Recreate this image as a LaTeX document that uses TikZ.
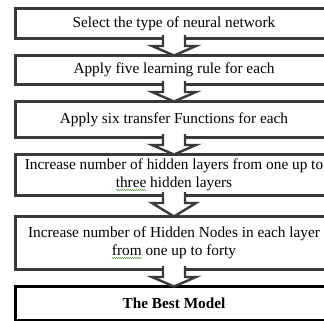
\documentclass[tikz,border=0pt]{standalone}
\usepackage{fontspec}
\setmainfont{Liberation Serif}
\usetikzlibrary{decorations.pathmorphing}
\definecolor{bordergray}{RGB}{58,58,58}
\definecolor{squiggle}{RGB}{80,160,60}
\tikzset{
  flowbox/.style={draw=bordergray, line width=2.8pt, fill=white, minimum width=317pt,
    align=center, font=\fontsize{15.3}{17.5}\selectfont, inner sep=0pt},
  finalbox/.style={flowbox, draw=black, font=\fontsize{15.3}{17.5}\selectfont\bfseries},
  flowarrow/.style={draw=bordergray, line width=2.4pt, fill=white, line join=miter},
}
\newlength\wavelen
\newcommand\wavy[1]{\settowidth\wavelen{#1}\rlap{#1}\tikz[baseline=0pt,trim left=0pt,trim right=\wavelen]\draw[draw=squiggle,fill=none,line width=0.5pt,decorate,decoration={snake,amplitude=0.5pt,segment length=2pt}] (0pt,-2.5pt) -- (\wavelen,-2.5pt);}
\newcommand\flowarrowpath[2]{\filldraw[flowarrow] ([xshift=-11pt,yshift=5pt]#1.south) -- ([xshift=-11pt,yshift=-6pt]#1.south) -- ([xshift=-22pt,yshift=-6pt]#1.south) -- ([yshift=-1.5pt]#2.north) -- ([xshift=22pt,yshift=-6pt]#1.south) -- ([xshift=11pt,yshift=-6pt]#1.south) -- ([xshift=11pt,yshift=5pt]#1.south);}
\begin{document}
\begin{tikzpicture}[x=1pt,y=-1pt]
\useasboundingbox (0,0) rectangle (324,321);
\clip (0,0) rectangle (324,321);
\node[flowbox, minimum height=30.2pt] (b1) at (174,23.5) {Select the type of neural network};
\node[flowbox, minimum height=29.2pt] (b2) at (174,70) {Apply five learning rule for each};
\node[flowbox, minimum height=36.2pt] (b3) at (174,119.5) {Apply six transfer Functions for each};
\node[flowbox, minimum height=41.2pt] (b4) at (174,175) {Increase number of hidden layers from one up to\\\wavy{three} hidden layers};
\node[flowbox, minimum height=53.2pt] (b5) at (174,243) {Increase number of Hidden Nodes in each layer\\\wavy{from} one up to forty};
\node[finalbox, minimum height=34.2pt] (b6) at (174,303.5) {The Best Model};
\flowarrowpath{b1}{b2}
\flowarrowpath{b2}{b3}
\flowarrowpath{b3}{b4}
\flowarrowpath{b4}{b5}
\flowarrowpath{b5}{b6}
\end{tikzpicture}
\end{document}
